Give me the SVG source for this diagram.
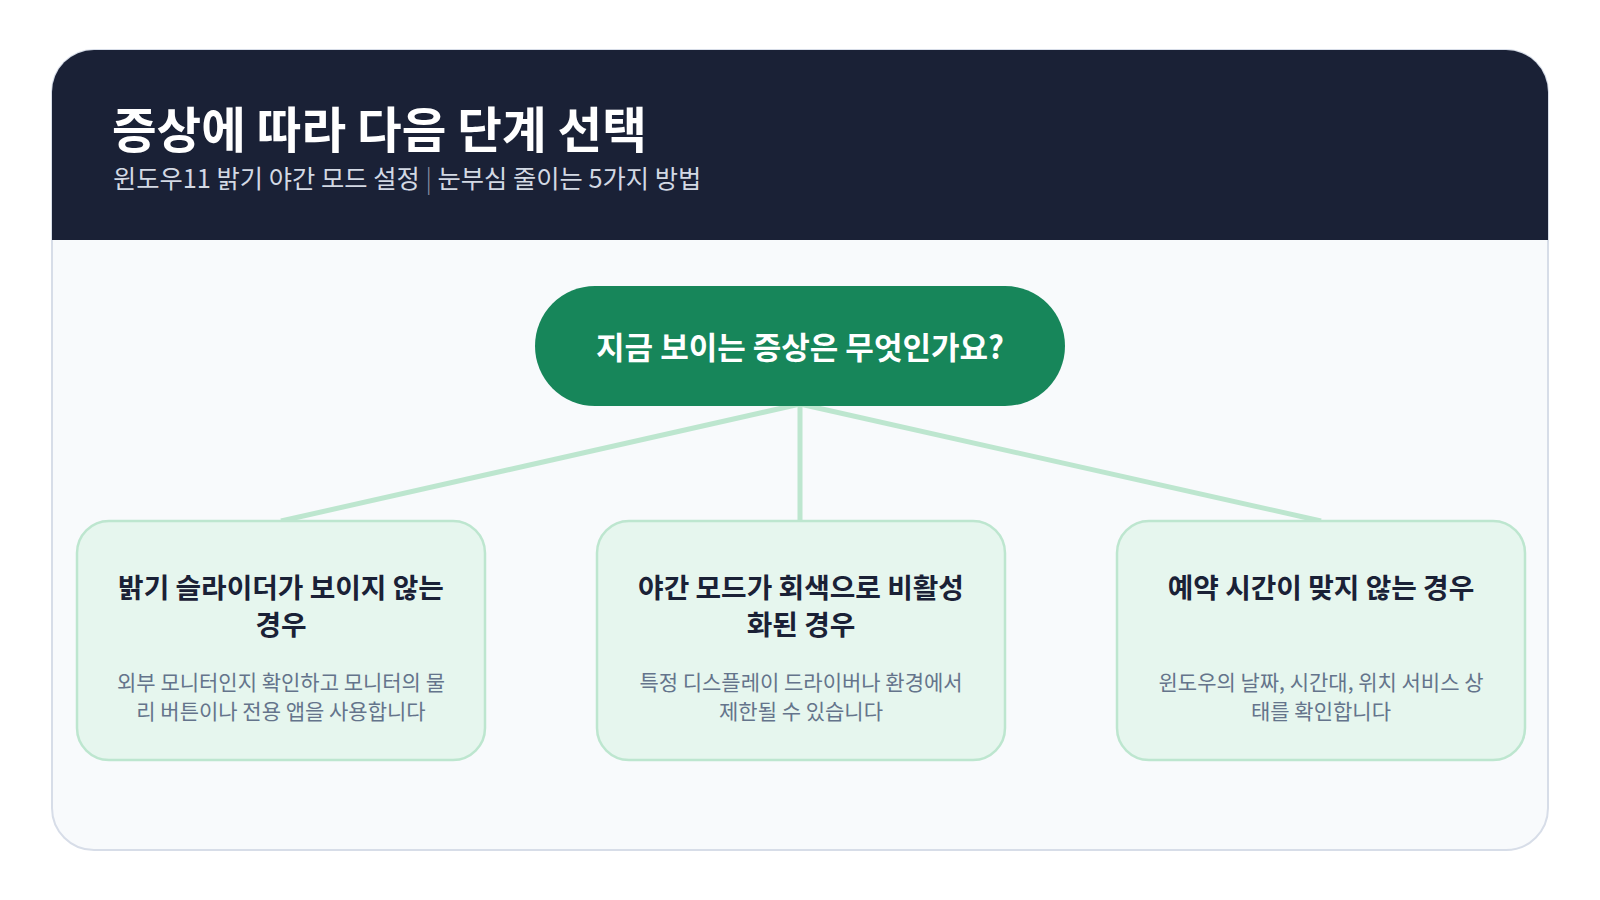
<svg xmlns="http://www.w3.org/2000/svg" width="1600" height="900" viewBox="0 0 1600 900">
  <defs>
    <style>
      .kr { font-family: "Noto Sans CJK KR", "Noto Sans", sans-serif; }
      .title { font-size: 48.5px; font-weight: 700; fill: #ffffff; }
      .sub { font-size: 25.3px; font-weight: 400; fill: #d3d9e4; }
      .sep { fill: #8b93a7; font-weight: 300; }
      .q { font-size: 31px; font-weight: 700; fill: #ffffff; }
      .card { fill: #e6f6ee; stroke: #bde6cf; stroke-width: 2.5; }
      .ctitle { font-size: 27.8px; font-weight: 700; fill: #1a2136; }
      .cdesc { font-size: 21px; font-weight: 400; fill: #64748b; }
      .conn { stroke: #bde6cf; stroke-width: 5; fill: none; stroke-linecap: butt; }
    </style>
    <clipPath id="cardClip">
      <rect x="52" y="50" width="1496" height="800" rx="42" ry="42"/>
    </clipPath>
  </defs>
  <rect x="0" y="0" width="1600" height="900" fill="#ffffff"/>
  <g id="frame">
    <rect x="52" y="50" width="1496" height="800" rx="42" ry="42" fill="#f8fafc" stroke="#d7dde8" stroke-width="2"/>
    <rect x="51" y="49" width="1498" height="191" fill="#1a2136" clip-path="url(#cardClip)"/>
  </g>
  <g id="header">
    <text class="kr title" x="112" y="148">증상에 따라 다음 단계 선택</text>
    <text class="kr sub" x="113" y="188">윈도우11 밝기 야간 모드 설정 <tspan class="sep">|</tspan> 눈부심 줄이는 5가지 방법</text>
  </g>
  <g id="connectors">
    <line class="conn" x1="800" y1="404" x2="281" y2="521"/>
    <line class="conn" x1="800" y1="404" x2="800" y2="521"/>
    <line class="conn" x1="800" y1="404" x2="1321" y2="521"/>
  </g>
  <g id="question">
    <rect x="535" y="286" width="530" height="120" rx="60" ry="60" fill="#17865a"/>
    <text class="kr q" x="800" y="359" text-anchor="middle">지금 보이는 증상은 무엇인가요?</text>
  </g>
  <g id="card-left">
    <rect class="card" x="77" y="521" width="408" height="239" rx="32" ry="32"/>
    <text class="kr ctitle" x="281" y="598" text-anchor="middle">밝기 슬라이더가 보이지 않는</text>
    <text class="kr ctitle" x="281" y="635" text-anchor="middle">경우</text>
    <text class="kr cdesc" x="281" y="690" text-anchor="middle">외부 모니터인지 확인하고 모니터의 물</text>
    <text class="kr cdesc" x="281" y="719" text-anchor="middle">리 버튼이나 전용 앱을 사용합니다</text>
  </g>
  <g id="card-middle">
    <rect class="card" x="597" y="521" width="408" height="239" rx="32" ry="32"/>
    <text class="kr ctitle" x="801" y="598" text-anchor="middle">야간 모드가 회색으로 비활성</text>
    <text class="kr ctitle" x="801" y="635" text-anchor="middle">화된 경우</text>
    <text class="kr cdesc" x="801" y="690" text-anchor="middle">특정 디스플레이 드라이버나 환경에서</text>
    <text class="kr cdesc" x="801" y="719" text-anchor="middle">제한될 수 있습니다</text>
  </g>
  <g id="card-right">
    <rect class="card" x="1117" y="521" width="408" height="239" rx="32" ry="32"/>
    <text class="kr ctitle" x="1321" y="598" text-anchor="middle">예약 시간이 맞지 않는 경우</text>
    <text class="kr cdesc" x="1321" y="690" text-anchor="middle">윈도우의 날짜, 시간대, 위치 서비스 상</text>
    <text class="kr cdesc" x="1321" y="719" text-anchor="middle">태를 확인합니다</text>
  </g>
</svg>
